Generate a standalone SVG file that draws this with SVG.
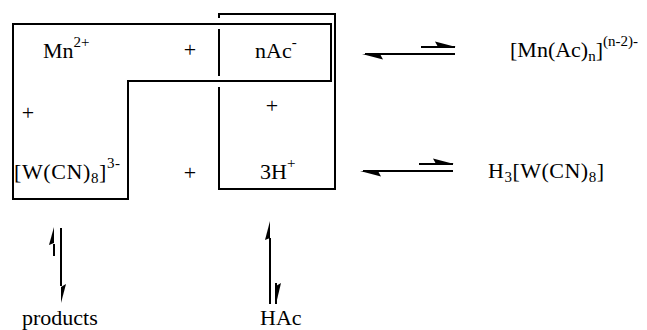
<svg xmlns="http://www.w3.org/2000/svg" width="647" height="330" viewBox="0 0 647 330">
<style>
.box{fill:none;stroke:#000;stroke-width:2}
.ln{fill:none;stroke:#000;stroke-width:2}
.hd{fill:#000;stroke:none}
.t{font-family:'Liberation Serif','DejaVu Serif',serif;font-size:22px;fill:#000}
.s{font-size:15px}
.m{text-anchor:middle}
</style>
<rect width="647" height="330" fill="#fff"/>
<g id="box-mn-w">
<path class="box" d="M13,24 H331 V81 H128 V199 H13 Z"/>
</g>
<g id="box-ac-h">
<path class="box" d="M219,18 V14 H335 V189 H219 V87 M219,29 V76"/>
</g>
<g font-family="Liberation Serif, DejaVu Serif, serif">
<g id="mn"><text class="t" x="43" y="58">Mn<tspan class="s" dy="-11">2+</tspan></text></g>
<g id="plus1"><text class="t m" x="190" y="57">+</text></g>
<g id="nac"><text class="t" x="255" y="58">nAc<tspan class="s" dy="-11">-</tspan></text></g>
<g id="plus2"><text class="t m" x="28" y="120">+</text></g>
<g id="plus3"><text class="t m" x="272" y="113">+</text></g>
<g id="wcn"><text class="t" x="14" y="179" letter-spacing="0.6">[W(CN)<tspan class="s" dy="4">8</tspan><tspan dy="-4">]</tspan><tspan class="s" dy="-11">3-</tspan></text></g>
<g id="plus4"><text class="t m" x="190" y="180">+</text></g>
<g id="h3"><text class="t" x="260" y="179">3H<tspan class="s" dy="-11">+</tspan></text></g>
<g id="mnac"><text class="t" x="510" y="57">[Mn(Ac)<tspan class="s" dy="4">n</tspan><tspan dy="-4">]</tspan><tspan class="s" dy="-11">(n-2)-</tspan></text></g>
<g id="h3wcn"><text class="t" x="488" y="178" letter-spacing="0.5">H<tspan class="s" dy="4">3</tspan><tspan dy="-4">[W(CN)</tspan><tspan class="s" dy="4">8</tspan><tspan dy="-4">]</tspan></text></g>
<g id="products"><text class="t" x="22" y="325">products</text></g>
<g id="hac"><text class="t" x="260" y="325">HAc</text></g>
</g>
<g id="connectors">
<path class="ln" d="M421,47 H455 M365,54 H455"/>
<polygon class="hd" points="456,47 435,41.5 438,47"/>
<polygon class="hd" points="362,54 383,59.5 380,54"/>
<path class="ln" d="M419,164 H453 M363,171 H453"/>
<polygon class="hd" points="454,164 433,158.5 436,164"/>
<polygon class="hd" points="360,171 381,176.5 378,171"/>
<path class="ln" d="M54,244 V256 M61,228 V286"/>
<polygon class="hd" points="54,227 49,245 54,243"/>
<polygon class="hd" points="61,303 66,284 61,287"/>
<path class="ln" d="M270,238 V304 M276,283 V304"/>
<polygon class="hd" points="270,221 265,240 270,238"/>
<polygon class="hd" points="276,304 281,283 276,286"/>
</g>
</svg>
